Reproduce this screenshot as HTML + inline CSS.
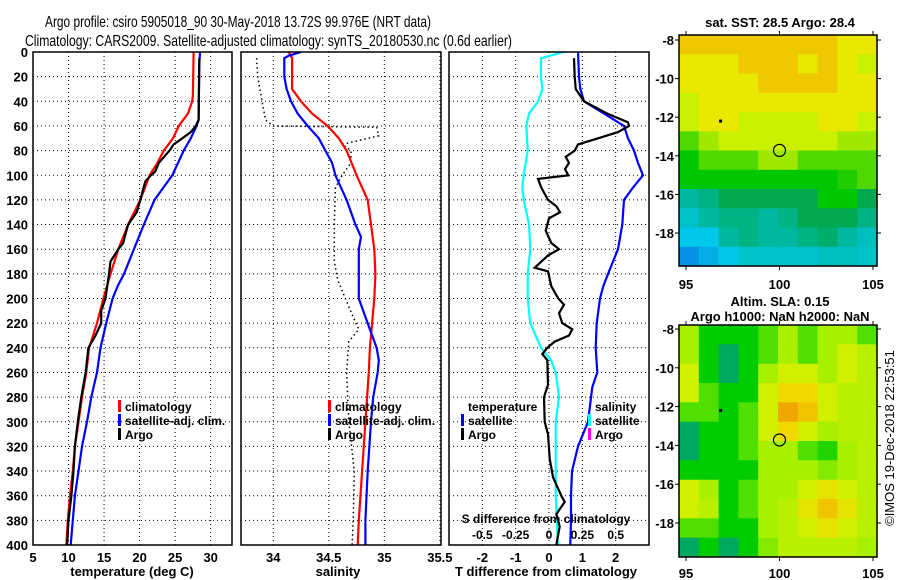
<!DOCTYPE html>
<html><head><meta charset="utf-8"><style>
body{margin:0;background:#fff;}
svg{display:block;font-family:"Liberation Sans",Arial,sans-serif;}
.t{font-size:13px;font-weight:bold;fill:#000}
.lg{font-size:12px;font-weight:bold;fill:#000}
</style></head><body>
<svg id="fig" width="900" height="580" viewBox="0 0 900 580" xmlns="http://www.w3.org/2000/svg">
<text x="45" y="27" textLength="386" lengthAdjust="spacingAndGlyphs" font-size="16">Argo profile: csiro 5905018_90 30-May-2018 13.72S 99.976E (NRT data)</text>
<text x="25" y="46" textLength="487" lengthAdjust="spacingAndGlyphs" font-size="16">Climatology: CARS2009. Satellite-adjusted climatology: synTS_20180530.nc (0.6d earlier)</text>
<g id="g"></g>
</svg>
<script>
// ---- data ----
const tempDepth = [0,35,40,50,60,70,80,90,100,120,140,160,180,200,220,240,260,280,300,320,340,360,380,400];
const tempClim  = [27.6,27.5,27.4,26.8,25.5,24.7,23.4,22.5,21.4,20.1,18.4,17.0,15.9,14.9,14.0,12.9,12.5,11.9,11.4,10.9,10.6,10.2,9.9,9.7];
const satDepth  = [0,10,55,60,70,80,100,120,140,160,180,190,200,220,240,260,280,300,320,340,360,380,400];
const tempSat   = [28.5,28.4,28.3,28.0,27.2,26.2,24.6,22.1,20.6,19.2,17.8,16.9,16.2,15.3,14.5,14.0,13.2,12.6,11.9,11.4,10.9,10.6,10.3];
const argoDepth = [5,55,60,65,70,75,80,90,97,100,105,120,130,140,150,155,160,170,180,200,210,220,230,240,260,280,300,320,340,360,380,400];
const tempArgo  = [28.4,28.3,27.9,27.2,26.0,24.8,24.2,22.7,22.2,21.6,20.8,20.1,19.6,18.4,17.9,17.7,17.0,15.9,15.7,15.2,14.6,14.6,13.8,12.8,12.4,11.8,11.3,10.9,10.7,10.4,10.0,9.8];

const salDepth = [0,5,30,40,50,60,70,80,100,120,140,160,180,200,220,240,260,300,340,380,400];
const salClim  = [34.14,34.17,34.17,34.25,34.35,34.49,34.59,34.66,34.75,34.85,34.88,34.91,34.92,34.91,34.89,34.87,34.86,34.83,34.80,34.77,34.76];
const salSatDepth = [0,3,5,20,30,40,50,60,70,80,90,100,120,140,150,160,180,200,220,240,250,260,280,300,340,380,400];
const salSat   = [34.25,34.14,34.10,34.10,34.12,34.16,34.22,34.31,34.41,34.47,34.53,34.56,34.66,34.74,34.79,34.77,34.77,34.77,34.85,34.93,34.95,34.94,34.90,34.88,34.85,34.83,34.83];
const salArgoDepth = [5,20,40,55,60,61,68,75,80,90,100,110,140,170,185,200,215,225,235,260,300,340,380,400];
const salArgo  = [33.85,33.86,33.90,33.93,34.00,34.93,34.95,34.62,34.70,34.70,34.62,34.56,34.55,34.55,34.58,34.65,34.72,34.77,34.68,34.66,34.68,34.73,34.72,34.71];

const dSDepth = [0,5,20,30,40,50,60,80,100,110,120,140,160,180,200,220,240,250,260,280,300,340,360,380,400];
const dSSat   = [0.11,-0.06,-0.06,-0.05,-0.08,-0.15,-0.17,-0.16,-0.19,-0.20,-0.19,-0.15,-0.14,-0.16,-0.16,-0.14,-0.06,0.015,0.05,0.075,0.05,0.05,0.05,0.06,0.065];
const dTSatDepth = [0,20,30,40,50,60,70,80,90,100,110,120,140,160,180,190,200,220,240,260,272,300,320,340,360,380,400];
const dTSat   = [0.87,0.90,0.94,1.05,1.65,2.25,2.37,2.55,2.67,2.82,2.52,2.25,2.20,2.07,1.77,1.63,1.53,1.43,1.40,1.45,1.30,1.17,0.87,0.69,0.66,0.66,0.64];
const dTArgoDepth = [5,20,30,40,50,57,60,65,70,75,80,85,90,95,100,103,110,120,125,130,135,145,155,160,165,175,178,190,200,205,212,220,225,230,235,240,245,250,270,280,300,310,330,345,360,365,375,385,400];
const dTArgo  = [0.75,0.77,0.80,1.05,1.75,2.37,2.40,2.07,1.47,0.87,0.77,0.50,0.60,0.48,0.58,-0.33,-0.23,-0.03,0.22,0.33,0.00,-0.10,0.07,0.30,-0.03,-0.43,-0.03,0.07,0.28,0.45,0.30,0.40,0.70,0.60,0.17,-0.05,-0.20,-0.05,-0.03,-0.15,-0.13,-0.03,0.02,0.12,0.37,0.47,0.22,0.32,0.22];

const depthTicks = [0,20,40,60,80,100,120,140,160,180,200,220,240,260,280,300,320,340,360,380,400];
const tempTicks = [5,10,15,20,25,30];
const salTicks = [34,34.5,35,35.5];
const salTickLabels = ["34","34.5","35","35.5"];
const dTTicks = [-2,-1,0,1,2];
const dSTicks = [-0.5,-0.25,0,0.25,0.5];
const dSTickLabels = ["-0.5","-0.25","0","0.25","0.5"];

const sstGrid = [
[4.5,4.5,4.5,4.5,4.5,4.5,4.5,4.5,4,4],
[4,4,4,4.5,4.5,4.5,4,4.5,4,3.5],
[4,4,4,4,4.5,4.5,4.5,4.5,4,4],
[3.5,4,4,4,4,4,4,4,4,4],
[3.5,4,4,3.5,3.5,3.5,3.5,4,4,3.5],
[2.5,3,3.5,3.5,3.5,3.5,3.5,3.5,3,3],
[2,2.5,2.5,2.5,3,3,2.5,2.5,2.5,2.5],
[2,2,2,2,2,2,2,2,2.2,2.5],
[1.5,1.6,1.8,1.8,1.8,1.8,1.8,2,2,1.8],
[1.2,1.5,1.6,1.6,1.5,1.6,1.8,1.8,1.8,1.6],
[1,1,1.5,1.6,1.5,1.5,1.6,1.7,1.5,1.3],
[0.6,0.8,1,1.2,1.2,1.2,1.2,1.3,1.3,1.2]];
const slaGrid = [
[3,2,2,2,2.5,3,2.5,3,3,2.5],
[3,2,1.5,2,2.5,3,2.5,3,3.5,3.2],
[3.5,2,1.5,2,3,3.5,3.5,3,3.5,3.2],
[3.5,2.5,2,2,3.5,4,4,3.5,3.2,3.2],
[2.5,2.5,2,2.5,3.5,4.5,4.2,3.5,3.2,3.2],
[1.5,2,2,2.5,3.5,4,3.5,3,3.2,3.2],
[1.5,2,2,2.5,3,3,2.5,2.2,3,3.2],
[2,2,2,2,3,3,3,2.8,3,3.2],
[3.5,3,2,2.5,3,3,3.5,3.8,3.5,3.2],
[3.5,3.2,2,2.5,3,3.2,3.8,4.2,3.8,3.2],
[2.5,2.5,2,2,3,3.2,3.5,3.8,3.5,3.2],
[1.5,2,1.5,2,2.8,3.2,3.2,3.2,3.2,3]];
const latTicks = [-8,-10,-12,-14,-16,-18];
const lonTicks = [95,100,105];

// ---- drawing ----
const NS="http://www.w3.org/2000/svg";
const G=document.getElementById('g');
function el(tag,attrs,parent){const e=document.createElementNS(NS,tag);for(const k in attrs)e.setAttribute(k,attrs[k]);(parent||G).appendChild(e);return e;}
function txt(x,y,s,anchor,cls,parent){const t=el('text',{x:x,y:y,'text-anchor':anchor||'start','class':cls||'t'},parent);t.textContent=s;return t;}

const PT=52, PB=545;
const yD=d=>PT+(d/400)*(PB-PT);
function lin(a,b,p,q){return v=>p+(v-a)/(b-a)*(q-p);}

const panels=[
 {name:'temperature-panel',x0:33,x1:232,xs:lin(5,33,33,232)},
 {name:'salinity-panel',x0:241,x1:441,xs:lin(33.71,35.51,241,441)},
 {name:'difference-panel',x0:449,x1:649,xs:lin(-3,3,449,649)}];
const dsScale=lin(-0.75,0.75,449,649);

function grid(p,xt){
 const g=el('g',{});
 
 
 depthTicks.forEach(d=>{ if(d>0&&d<400) el('line',{x1:p.x0,x2:p.x1,y1:yD(d),y2:yD(d),stroke:'#000','stroke-width':1,'stroke-dasharray':'1,3'},g);});
 xt.forEach(v=>{const x=p.xs(v); if(x>p.x0+1&&x<p.x1-1) el('line',{x1:x,x2:x,y1:PT,y2:PB,stroke:'#000','stroke-width':1,'stroke-dasharray':'1,3'},g);});
}
function line(p,depths,vals,color,name,dash,scale){
 const sc=scale||p.xs;
 const pts=depths.map((d,i)=>sc(vals[i]).toFixed(1)+','+yD(d).toFixed(1)).join(' ');
 const l=el('polyline',{points:pts,fill:'none',stroke:color,'stroke-width':dash?1.5:2.2});
 if(dash) l.setAttribute('stroke-dasharray',dash);
 
 
}
function frame(p){
 const r=el('rect',{x:p.x0,y:PT,width:p.x1-p.x0,height:PB-PT,fill:'none',stroke:'#000','stroke-width':1.5});
 
 
}
function legend(x,y,items,name){
 const g=el('g',{});
 
 
 items.forEach((it,i)=>{
  if(it[0]) el('rect',{x:x,y:y+i*14-11,width:3,height:12,fill:it[0]},g);
  txt(x+7,y+i*14,it[1],'start','lg',g);
 });
}

// panel 1
let p=panels[0];
grid(p,tempTicks);
line(p,tempDepth,tempClim,'#ff0000','temp-climatology-line');
line(p,satDepth,tempSat,'#0000ff','temp-satellite-line');
line(p,argoDepth,tempArgo,'#000000','temp-argo-line');
frame(p);
depthTicks.forEach(d=>{txt(28,yD(d)+5,String(d),'end');});
tempTicks.forEach(v=>txt(p.xs(v),562,String(v),'middle'));
txt(132,576,'temperature (deg C)','middle');
legend(118,411,[['#ff0000','climatology'],['#0000ff','satellite-adj. clim.'],['#000','Argo']],'temp-legend');

// panel 2
p=panels[1];
grid(p,salTicks);
line(p,salArgoDepth,salArgo,'#000000','salinity-argo-line','1.5,3');
line(p,salDepth,salClim,'#ff0000','salinity-climatology-line');
line(p,salSatDepth,salSat,'#0000ff','salinity-satellite-line');
frame(p);
salTicks.forEach((v,i)=>txt(p.xs(v),562,salTickLabels[i],'middle'));
txt(338,576,'salinity','middle');
legend(328,411,[['#ff0000','climatology'],['#0000ff','satellite-adj. clim.'],['#000','Argo']],'salinity-legend');

// panel 3
p=panels[2];
grid(p,dTTicks);
line(p,dSDepth,dSSat,'#00ffff','sdiff-satellite-line',null,dsScale);
line(p,dTSatDepth,dTSat,'#0000ff','tdiff-satellite-line');
line(p,dTArgoDepth,dTArgo,'#000000','tdiff-argo-line');
frame(p);
dTTicks.forEach(v=>txt(p.xs(v),562,String(v),'middle'));
txt(546,576,'T difference from climatology','middle');
legend(461,411,[[null,'temperature'],['#0000ff','satellite'],['#000','Argo']],'tdiff-legend');
legend(588,411,[[null,'salinity'],['#00ffff','satellite'],['#ff00ff','Argo']],'sdiff-legend');
txt(546,523,'S difference from climatology','middle','lg');
dSTicks.forEach((v,i)=>txt(dsScale(v),539,dSTickLabels[i],'middle','lg'));

// ---- maps ----
function cmap(stops,v){
 for(let i=0;i<stops.length-1;i++){
  const a=stops[i],b=stops[i+1];
  if(v<=b[0]){const f=Math.max(0,(v-a[0])/(b[0]-a[0]));
   const c=a[1].map((x,k)=>Math.round(x+(b[1][k]-x)*f));return 'rgb('+c.join(',')+')';}
 }
 return 'rgb('+stops[stops.length-1][1].join(',')+')';
}
const sstStops=[[0,[16,64,224]],[1,[0,200,232]],[1.5,[0,184,160]],[1.8,[0,168,80]],[2,[0,200,0]],[3,[160,232,0]],[3.5,[200,240,0]],[4,[232,232,0]],[4.5,[240,200,0]],[5,[240,160,0]]];
const slaStops=[[1.5,[0,168,96]],[2,[0,204,0]],[2.5,[80,224,0]],[3,[168,240,0]],[3.5,[208,240,0]],[4,[240,216,0]],[4.5,[240,168,0]]];

function map(name,x0,y0,w,h,gridV,stops,latY,lonX,labelY){
 const g=el('g',{});
 
 
 const rows=gridV.length, cols=gridV[0].length;
 gridV.forEach((row,r)=>row.forEach((v,c)=>{
  const cell=el('rect',{x:(x0+c*w/cols).toFixed(1),y:(y0+r*h/rows).toFixed(1),width:(w/cols+0.6).toFixed(1),height:(h/rows+0.6).toFixed(1),fill:cmap(stops,v)},g);
  
  
 }));
 el('rect',{x:x0,y:y0,width:w,height:h,fill:'none',stroke:'#000','stroke-width':1.5},g);
 latTicks.forEach(l=>{const y=latY(l);
  el('line',{x1:x0-4,x2:x0,y1:y,y2:y,stroke:'#000'},g);
  el('line',{x1:x0+w,x2:x0+w+4,y1:y,y2:y,stroke:'#000'},g);
  txt(x0-5,y+5,String(l),'end','t',g);});
 lonTicks.forEach(l=>{const x=lonX(l);
  el('line',{x1:x,x2:x,y1:y0+h,y2:y0+h+4,stroke:'#000'},g);
  el('line',{x1:x,x2:x,y1:y0-4,y2:y0,stroke:'#000'},g);
  txt(x,labelY,String(l),'middle','t',g);});
 const lonA=lonX(100), latA=latY(-13.72);
 const c=el('circle',{cx:lonA,cy:latA,r:6,fill:'none',stroke:'#000','stroke-width':1.2},g);
 
 
 el('rect',{x:lonX(96.85)-1.5,y:latY(-12.2)-1.5,width:3,height:3,fill:'#000'},g);
}
const lonX=lin(95,105,686,873);
map('sst-map',679,35,198,231,sstGrid,sstStops,lin(-8,-18,40,233),lonX,289);
map('sla-map',679,325,198,232,slaGrid,slaStops,lin(-8,-18,329,523),lonX,578);
txt(780,27,'sat. SST: 28.5 Argo: 28.4','middle');
txt(780,306,'Altim. SLA: 0.15','middle');
txt(780,321,'Argo h1000: NaN h2000: NaN','middle');
const cr=txt(0,0,'©IMOS 19-Dec-2018 22:53:51','middle');
cr.setAttribute('style','font-weight:normal;font-size:13px');
cr.setAttribute('transform','translate(894,438) rotate(-90)');


</script>
</body></html>
